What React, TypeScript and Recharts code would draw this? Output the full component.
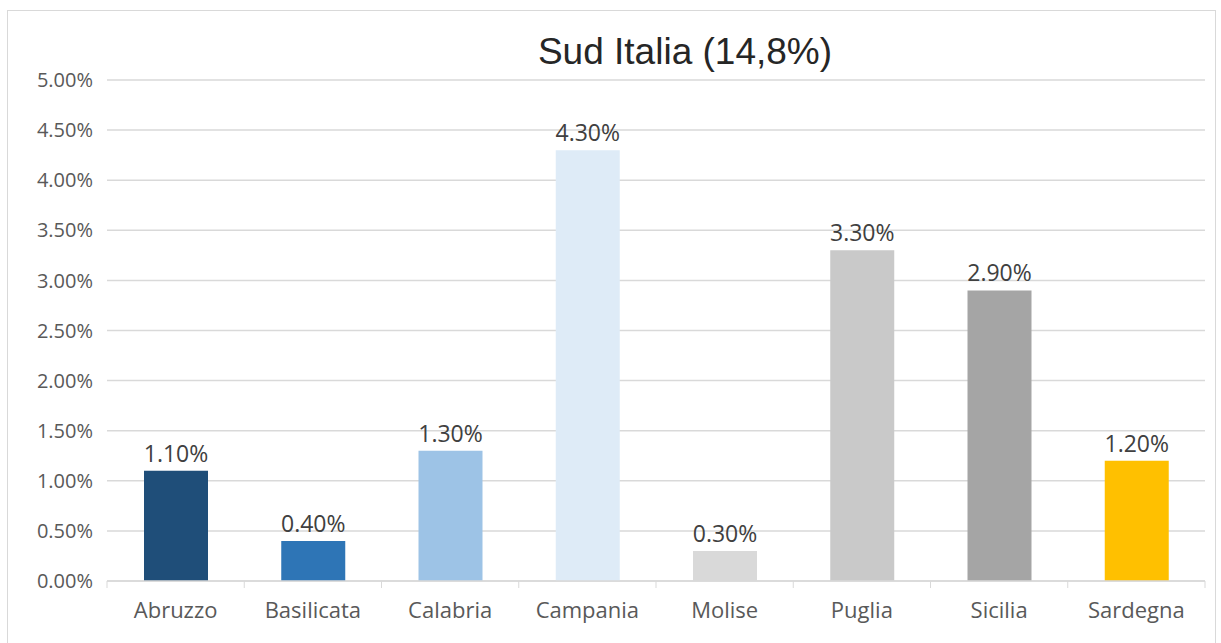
import { Bar, BarChart, CartesianGrid, Cell, LabelList, XAxis, YAxis } from "recharts"

const regions = ["Abruzzo", "Basilicata", "Calabria", "Campania", "Molise", "Puglia", "Sicilia", "Sardegna"]
const shares = [1.1, 0.4, 1.3, 4.3, 0.3, 3.3, 2.9, 1.2]
const barColors = ["#1f4e79", "#2e75b6", "#9dc3e6", "#deebf7", "#d9d9d9", "#c9c9c9", "#a5a5a5", "#ffc000"]
const yTicks = [0, 0.5, 1, 1.5, 2, 2.5, 3, 3.5, 4, 4.5, 5]
const title = "Sud Italia (14,8%)"

const data = regions.map((region, i) => ({ region, share: shares[i] }))

const pct = (v: number) => `${Number(v).toFixed(2)}%`

const FONT = "'Open Sans', 'Noto Sans', sans-serif"
const GRID = "#d9d9d9"

// Excel puts the category ticks between the bars, so draw them at the band edges
function CategoryTick(props: any) {
  const { x, y, payload, index, visibleTicksCount } = props
  const half = payload?.offset ?? 68.6
  return (
    <g>
      <line x1={x - half} x2={x - half} y1={y} y2={y + 7} stroke={GRID} />
      {index === visibleTicksCount - 1 && (
        <line x1={x + half} x2={x + half} y1={y} y2={y + 7} stroke={GRID} />
      )}
      <text x={x} y={y + 37} textAnchor="middle" fill="#595959" fontSize={22} fontFamily={FONT}>
        {payload.value}
      </text>
    </g>
  )
}

export default function App() {
  return (
    <div style={{ position: "relative", width: 1221, height: 643, background: "#fff", overflow: "hidden" }}>
      <style>{`body{margin:0}`}</style>
      <div
        style={{
          position: "absolute",
          left: 7,
          top: 10,
          width: 1209,
          height: 660,
          border: "1px solid #d9d9d9",
          boxSizing: "border-box",
        }}
      />
      <div
        style={{
          position: "absolute",
          left: 685,
          top: 52,
          transform: "translate(-50%, -50%)",
          fontFamily: "'Liberation Sans', Arial, sans-serif",
          fontSize: 37,
          color: "#262626",
          whiteSpace: "nowrap",
        }}
      >
        {title}
      </div>
      <div style={{ position: "absolute", left: 0, top: 0 }}>
        <BarChart width={1221} height={643} data={data} margin={{ top: 80, right: 16, bottom: 0, left: 0 }}>
          <CartesianGrid vertical={false} stroke={GRID} strokeWidth={1.5} />
          <XAxis
            dataKey="region"
            height={62}
            axisLine={{ stroke: GRID, strokeWidth: 1.5 }}
            tickLine={false}
            tickSize={0}
            tickMargin={0}
            interval={0}
            tick={<CategoryTick />}
          />
          <YAxis
            width={107}
            domain={[0, 5]}
            ticks={yTicks}
            interval={0}
            axisLine={false}
            tickLine={false}
            tickSize={0}
            tickMargin={14}
            tickFormatter={pct}
            tick={{ fill: "#595959", fontSize: 20, fontFamily: FONT }}
          />
          <Bar dataKey="share" barSize={64} isAnimationActive={false}>
            {data.map((d, i) => (
              <Cell key={d.region} fill={barColors[i]} />
            ))}
            <LabelList
              dataKey="share"
              position="top"
              offset={9}
              formatter={(v: any) => pct(v)}
              fill="#404040"
              fontSize={23}
              fontFamily={FONT}
            />
          </Bar>
        </BarChart>
      </div>
    </div>
  )
}
